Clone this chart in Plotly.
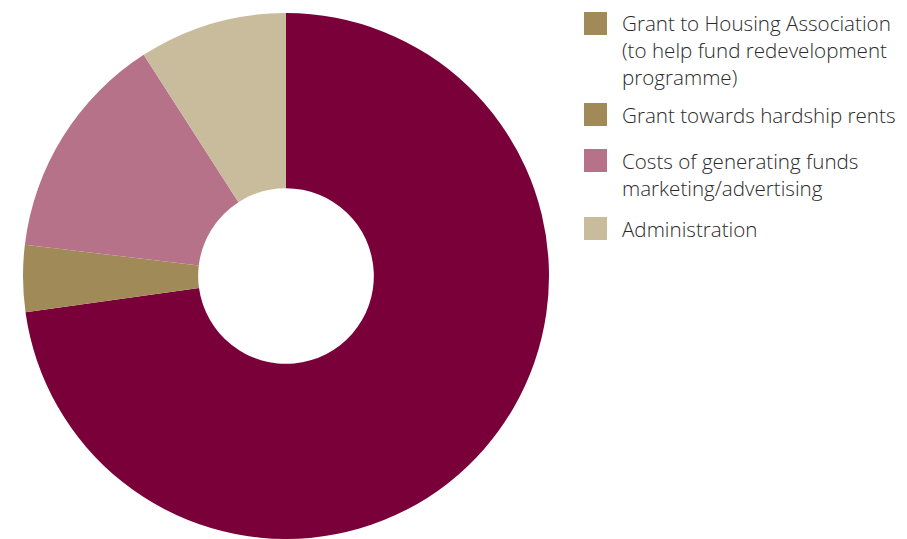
import plotly.graph_objects as go

# Share of spending by category (percent of total)
categories = [
    "Grant to Housing Association (to help fund redevelopment programme)",
    "Grant towards hardship rents",
    "Costs of generating funds marketing/advertising",
    "Administration",
]
values = [72.8, 4.1, 14.0, 9.1]
slice_colors = ["#7A0039", "#A08B58", "#B57288", "#C9BC9C"]

# Legend entries as printed (line breaks included) and their swatch colours
legend_labels = [
    "Grant to Housing Association<br>(to help fund redevelopment<br>programme)",
    "Grant towards hardship rents",
    "Costs of generating funds<br>marketing/advertising",
    "Administration",
]
legend_colors = ["#A08B58", "#A08B58", "#B57288", "#C9BC9C"]

W, H = 907, 539
FONT = "Open Sans"
FS = 20.6
TEXT_COLOR = "#2b2b2b"

fig = go.Figure(
    go.Pie(
        labels=categories,
        values=values,
        marker=dict(colors=slice_colors, line=dict(width=0)),
        hole=0.334,
        sort=False,
        direction="clockwise",
        rotation=0,
        textinfo="none",
        hoverinfo="label+percent",
        showlegend=False,
        domain=dict(x=[23 / W, 549 / W], y=[0, 1 - 13 / H]),
    )
)

# Hand-built legend: square swatch plus left-aligned label to its right
swatch_tops = [12, 103, 149, 217]
SW = 23
shapes, annotations = [], []
for top, color, text in zip(swatch_tops, legend_colors, legend_labels):
    shapes.append(dict(
        type="rect", xref="paper", yref="paper",
        x0=584 / W, x1=(584 + SW) / W,
        y0=1 - (top + SW) / H, y1=1 - top / H,
        fillcolor=color, line=dict(width=0),
    ))
    annotations.append(dict(
        xref="paper", yref="paper",
        x=620 / W, y=1 - (top - 4.5) / H,
        xanchor="left", yanchor="top", align="left",
        text=text, showarrow=False,
        font=dict(family=FONT, size=FS, color=TEXT_COLOR, weight=300),
    ))

fig.update_layout(
    width=W, height=H,
    margin=dict(l=0, r=0, t=0, b=0),
    paper_bgcolor="white", plot_bgcolor="white",
    shapes=shapes, annotations=annotations,
)

fig.write_html("out.html")
